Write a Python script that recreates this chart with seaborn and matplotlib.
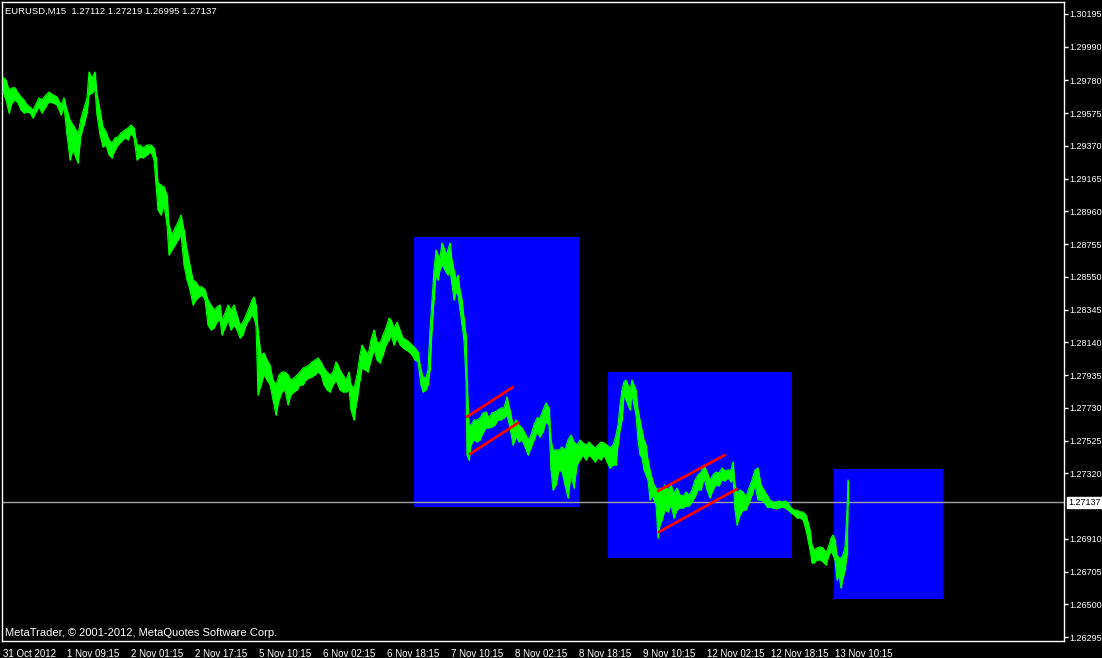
import numpy as np
import pandas as pd
import seaborn as sns
import matplotlib.pyplot as plt
from matplotlib.patches import Rectangle
import matplotlib.transforms as mtransforms

# EURUSD M15 - bar number (1 bar = 15 min), high / low of sampled bars
bars = [3, 6, 9, 12, 15, 18, 21, 24, 27, 30, 33, 36, 39, 42, 45, 49, 53, 57, 61, 64,
        67, 70, 73, 76, 78, 81, 84, 87, 89, 92, 95, 97, 100, 103, 106, 109, 112, 115, 118, 121,
        125, 128, 131, 134, 137, 140, 143, 147, 151, 154, 156, 158, 161, 164, 167, 169, 172, 175, 178, 181,
        184, 187, 190, 193, 196, 199, 202, 205, 208, 211, 214, 217, 220, 222, 225, 228, 231, 234, 237, 240,
        243, 246, 249, 252, 254, 256, 258, 261, 264, 267, 270, 273, 276, 279, 282, 285, 288, 291, 294, 297,
        300, 303, 306, 309, 312, 315, 318, 321, 324, 327, 330, 333, 336, 338, 340, 343, 346, 349, 351, 354,
        357, 360, 362, 365, 368, 371, 374, 377, 380, 383, 386, 389, 391, 394, 397, 400, 403, 406, 409, 412,
        415, 418, 421, 423, 426, 428, 430, 432, 434, 436, 438, 440, 442, 444, 446, 448, 450, 452, 454, 456,
        458, 460, 462, 464, 466, 467, 469, 471, 474, 477, 480, 483, 486, 489, 492, 495, 498, 501, 504, 507,
        510, 513, 516, 519, 522, 525, 528, 531, 534, 537, 540, 543, 546, 549, 551, 553, 556, 559, 562, 565,
        568, 571, 574, 577, 580, 583, 586, 589, 592, 595, 598, 601, 604, 607, 610, 613, 616, 618, 620, 622,
        624, 626, 628, 630, 632, 634, 636, 638, 640, 642, 644, 646, 648, 650, 652, 654, 656, 658, 660, 662,
        665, 668, 671, 674, 677, 680, 683, 686, 689, 692, 695, 698, 701, 704, 707, 710, 713, 716, 719, 722,
        725, 728, 731, 733, 735, 737, 740, 743, 746, 749, 752, 755, 758, 761, 764, 767, 770, 773, 776, 779,
        782, 785, 788, 791, 794, 797, 800, 803, 806, 808, 810, 812, 814, 817, 820, 823, 826, 829, 831, 833,
        835, 837, 839, 841, 843, 845, 847, 848]

highs = [1.29801, 1.29782, 1.29720, 1.29733, 1.29733, 1.29701, 1.29676, 1.29657, 1.29626, 1.29613,
         1.29594, 1.29632, 1.29670, 1.29657, 1.29682, 1.29707, 1.29689, 1.29676, 1.29626, 1.29670,
         1.29594, 1.29532, 1.29500, 1.29469, 1.29438, 1.29544, 1.29607, 1.29670, 1.29832, 1.29795,
         1.29832, 1.29689, 1.29594, 1.29488, 1.29457, 1.29407, 1.29388, 1.29419, 1.29426, 1.29451,
         1.29469, 1.29482, 1.29500, 1.29482, 1.29375, 1.29375, 1.29357, 1.29375, 1.29375, 1.29357,
         1.29300, 1.29137, 1.29125, 1.29112, 1.29062, 1.28874, 1.28812, 1.28856, 1.28893, 1.28937,
         1.28843, 1.28718, 1.28624, 1.28530, 1.28518, 1.28487, 1.28487, 1.28468, 1.28405, 1.28374,
         1.28342, 1.28361, 1.28374, 1.28280, 1.28324, 1.28374, 1.28342, 1.28374, 1.28311, 1.28248,
         1.28267, 1.28311, 1.28355, 1.28405, 1.28424, 1.28374, 1.28217, 1.28061, 1.28073, 1.28029,
         1.27998, 1.27904, 1.27873, 1.27936, 1.27954, 1.27954, 1.27936, 1.27904, 1.27917, 1.27936,
         1.27954, 1.27979, 1.27986, 1.27998, 1.28017, 1.28029, 1.28042, 1.28017, 1.27979, 1.27954,
         1.27936, 1.27954, 1.28017, 1.27998, 1.27967, 1.27936, 1.27904, 1.27954, 1.27873, 1.27854,
         1.27936, 1.28061, 1.28123, 1.28092, 1.28061, 1.28155, 1.28217, 1.28142, 1.28136, 1.28186,
         1.28230, 1.28292, 1.28280, 1.28230, 1.28267, 1.28217, 1.28167, 1.28155, 1.28142, 1.28123,
         1.28105, 1.28080, 1.27967, 1.27923, 1.27917, 1.27967, 1.28217, 1.28405, 1.28593, 1.28718,
         1.28687, 1.28668, 1.28762, 1.28731, 1.28687, 1.28718, 1.28762, 1.28655, 1.28593, 1.28530,
         1.28561, 1.28468, 1.28405, 1.28292, 1.28186, 1.27904, 1.27622, 1.27622, 1.27654, 1.27654,
         1.27667, 1.27698, 1.27704, 1.27667, 1.27698, 1.27704, 1.27716, 1.27729, 1.27729, 1.27798,
         1.27716, 1.27622, 1.27654, 1.27622, 1.27604, 1.27572, 1.27529, 1.27560, 1.27622, 1.27667,
         1.27667, 1.27716, 1.27760, 1.27729, 1.27529, 1.27466, 1.27466, 1.27466, 1.27485, 1.27466,
         1.27529, 1.27560, 1.27516, 1.27497, 1.27529, 1.27510, 1.27497, 1.27516, 1.27497, 1.27479,
         1.27497, 1.27516, 1.27510, 1.27497, 1.27479, 1.27497, 1.27560, 1.27622, 1.27748, 1.27842,
         1.27892, 1.27904, 1.27873, 1.27842, 1.27904, 1.27873, 1.27842, 1.27716, 1.27654, 1.27591,
         1.27529, 1.27497, 1.27403, 1.27341, 1.27291, 1.27247, 1.27228, 1.27216, 1.27228, 1.27216,
         1.27247, 1.27216, 1.27247, 1.27197, 1.27228, 1.27184, 1.27178, 1.27203, 1.27184, 1.27216,
         1.27278, 1.27310, 1.27328, 1.27372, 1.27328, 1.27278, 1.27310, 1.27328, 1.27322, 1.27353,
         1.27335, 1.27341, 1.27341, 1.27391, 1.27247, 1.27197, 1.27216, 1.27203, 1.27172, 1.27228,
         1.27278, 1.27341, 1.27353, 1.27247, 1.27216, 1.27184, 1.27153, 1.27140, 1.27140, 1.27147,
         1.27140, 1.27147, 1.27134, 1.27103, 1.27090, 1.27090, 1.27078, 1.27078, 1.27059, 1.27015,
         1.26965, 1.26871, 1.26840, 1.26853, 1.26859, 1.26853, 1.26822, 1.26871, 1.26915, 1.26934,
         1.26903, 1.26809, 1.26790, 1.26790, 1.26809, 1.26859, 1.27090, 1.27278]

lows = [1.29707, 1.29657, 1.29575, 1.29638, 1.29657, 1.29638, 1.29594, 1.29575, 1.29582, 1.29575,
        1.29544, 1.29582, 1.29613, 1.29575, 1.29607, 1.29645, 1.29638, 1.29626, 1.29563, 1.29613,
        1.29438, 1.29281, 1.29344, 1.29294, 1.29262, 1.29438, 1.29500, 1.29575, 1.29689, 1.29701,
        1.29720, 1.29563, 1.29438, 1.29363, 1.29375, 1.29313, 1.29294, 1.29344, 1.29375, 1.29394,
        1.29419, 1.29407, 1.29451, 1.29419, 1.29281, 1.29300, 1.29294, 1.29313, 1.29332, 1.29281,
        1.29125, 1.28968, 1.28937, 1.28999, 1.28874, 1.28687, 1.28718, 1.28749, 1.28781, 1.28812,
        1.28624, 1.28530, 1.28468, 1.28374, 1.28405, 1.28424, 1.28436, 1.28405, 1.28248, 1.28217,
        1.28230, 1.28267, 1.28280, 1.28186, 1.28230, 1.28280, 1.28217, 1.28248, 1.28217, 1.28167,
        1.28186, 1.28248, 1.28280, 1.28311, 1.28292, 1.28248, 1.27811, 1.27873, 1.27936, 1.27904,
        1.27873, 1.27779, 1.27685, 1.27779, 1.27829, 1.27842, 1.27748, 1.27811, 1.27829, 1.27842,
        1.27873, 1.27873, 1.27904, 1.27917, 1.27923, 1.27936, 1.27954, 1.27936, 1.27873, 1.27842,
        1.27829, 1.27873, 1.27904, 1.27873, 1.27842, 1.27829, 1.27829, 1.27842, 1.27716, 1.27654,
        1.27779, 1.27904, 1.27979, 1.27967, 1.27954, 1.28029, 1.28092, 1.28029, 1.28010, 1.28061,
        1.28123, 1.28155, 1.28186, 1.28123, 1.28167, 1.28123, 1.28105, 1.28092, 1.28080, 1.28061,
        1.28029, 1.28017, 1.27873, 1.27829, 1.27842, 1.27873, 1.27967, 1.28217, 1.28405, 1.28561,
        1.28530, 1.28593, 1.28624, 1.28605, 1.28580, 1.28561, 1.28593, 1.28499, 1.28405, 1.28455,
        1.28436, 1.28342, 1.28248, 1.28155, 1.27904, 1.27435, 1.27403, 1.27497, 1.27529, 1.27516,
        1.27529, 1.27572, 1.27604, 1.27604, 1.27610, 1.27622, 1.27654, 1.27654, 1.27667, 1.27685,
        1.27604, 1.27497, 1.27547, 1.27516, 1.27529, 1.27485, 1.27435, 1.27479, 1.27529, 1.27579,
        1.27547, 1.27579, 1.27641, 1.27622, 1.27341, 1.27216, 1.27247, 1.27341, 1.27328, 1.27247,
        1.27166, 1.27310, 1.27228, 1.27372, 1.27403, 1.27435, 1.27403, 1.27435, 1.27416, 1.27391,
        1.27416, 1.27403, 1.27435, 1.27391, 1.27353, 1.27372, 1.27372, 1.27497, 1.27591, 1.27654,
        1.27811, 1.27779, 1.27748, 1.27716, 1.27811, 1.27748, 1.27685, 1.27529, 1.27435, 1.27416,
        1.27341, 1.27310, 1.27278, 1.27153, 1.27184, 1.27153, 1.27122, 1.26916, 1.26996, 1.27028,
        1.27090, 1.27078, 1.27122, 1.27040, 1.27090, 1.27103, 1.27103, 1.27115, 1.27115, 1.27140,
        1.27172, 1.27216, 1.27216, 1.27291, 1.27216, 1.27166, 1.27216, 1.27247, 1.27241, 1.27278,
        1.27272, 1.27291, 1.27266, 1.27291, 1.27090, 1.26996, 1.27059, 1.27090, 1.27090, 1.27134,
        1.27184, 1.27247, 1.27153, 1.27153, 1.27140, 1.27109, 1.27109, 1.27103, 1.27097, 1.27103,
        1.27109, 1.27103, 1.27090, 1.27072, 1.27059, 1.27040, 1.27040, 1.27028, 1.26965, 1.26903,
        1.26840, 1.26759, 1.26759, 1.26777, 1.26777, 1.26765, 1.26746, 1.26809, 1.26834, 1.26809,
        1.26777, 1.26652, 1.26684, 1.26602, 1.26665, 1.26715, 1.26809, 1.27122]

# chart objects (bar from, bar to, price top, price bottom)
boxes = [(414, 579, 1.28799, 1.27109),
         (608, 792, 1.27954, 1.26790),
         (834, 943, 1.27347, 1.26533)]
# trend lines (bar1, price1, bar2, price2)
trend_lines = [(467, 1.27673, 513, 1.27860),
               (470, 1.27441, 518, 1.27635),
               (658, 1.27209, 725, 1.27435),
               (659, 1.26953, 737, 1.27222)]

price_ticks = [1.30195, 1.29990, 1.29780, 1.29575, 1.29370, 1.29165, 1.28960, 1.28755,
               1.28550, 1.28345, 1.28140, 1.27935, 1.27730, 1.27525, 1.27320, 1.26910,
               1.26705, 1.26500, 1.26295]
time_ticks = [2, 66, 130, 194, 258, 322, 386, 450, 514, 578, 642, 706, 770, 834]
time_labels = ["31 Oct 2012", "1 Nov 09:15", "2 Nov 01:15", "2 Nov 17:15", "5 Nov 10:15",
               "6 Nov 02:15", "6 Nov 18:15", "7 Nov 10:15", "8 Nov 02:15", "8 Nov 18:15",
               "9 Nov 10:15", "12 Nov 02:15", "12 Nov 18:15", "13 Nov 10:15"]
last_price = 1.27137
header = "EURUSD,M15  1.27112 1.27219 1.26995 1.27137"

sns.set_style("dark", {"axes.facecolor": "black", "figure.facecolor": "black"})
plt.rcParams["font.family"] = ["Liberation Sans", "DejaVu Sans"]

fig = plt.figure(figsize=(11.02, 6.58), dpi=100)
ax = fig.add_axes([2 / 1102, 17 / 658, 1062 / 1102, 639 / 658])
ax.set_facecolor("black")

for b0, b1, ptop, pbot in boxes:
    ax.add_patch(Rectangle((b0, pbot), b1 - b0, ptop - pbot, color="#0000ff", lw=0, zorder=1))

ax.axhline(last_price, color="#a0a0a0", lw=1, zorder=2)

df = pd.DataFrame({"bar": bars, "high": highs, "low": lows})
ax.fill_between(df["bar"], df["low"], df["high"], color="#00ff00", lw=0, zorder=3)
sns.lineplot(data=df, x="bar", y="high", color="#00ff00", lw=0.8, ax=ax, zorder=3,
             estimator=None, sort=False)
sns.lineplot(data=df, x="bar", y="low", color="#00ff00", lw=0.8, ax=ax, zorder=3,
             estimator=None, sort=False)
ax.vlines(df["bar"], df["low"], df["high"], color="#00ff00", lw=1.0, zorder=3)

for b1, p1, b2, p2 in trend_lines:
    ax.plot([b1, b2], [p1, p2], color="#ff0000", lw=2, zorder=4)

ax.set_xlim(2, 1064)
ax.set_ylim(1.26270, 1.30270)
ax.set_xlabel("")
ax.set_ylabel("")
ax.grid(False)

ax.yaxis.tick_right()
ax.set_yticks(price_ticks)
ax.set_yticklabels([f"{p:.5f}" for p in price_ticks])
ax.set_xticks(time_ticks)
ax.set_xticklabels(time_labels, ha="left")
ax.tick_params(colors="white", labelcolor="white", length=3, width=1, direction="out")
ax.tick_params(axis="y", pad=1, labelsize=6.5, left=False, right=True)
ax.tick_params(axis="x", pad=2.5, labelsize=7)
offset = mtransforms.ScaledTranslation(1 / 100, 0, fig.dpi_scale_trans)
for lbl in ax.get_xticklabels():
    lbl.set_transform(lbl.get_transform() + offset)

for side in ["left", "right", "top", "bottom"]:
    ax.spines[side].set_visible(True)
    ax.spines[side].set_color("white")
    ax.spines[side].set_linewidth(1)

ax.annotate(f"{last_price:.5f}", xy=(1.0, last_price), xycoords=("axes fraction", "data"),
            xytext=(3, 0), textcoords="offset points", ha="left", va="center",
            fontsize=6.5, color="black",
            bbox=dict(boxstyle="square,pad=0.12", fc="white", ec="white"), zorder=10,
            annotation_clip=False)

ax.text(0.003, 0.993, header, transform=ax.transAxes, color="white", fontsize=6.8,
        ha="left", va="top")
ax.text(0.003, 0.005, "MetaTrader, © 2001-2012, MetaQuotes Software Corp.",
        transform=ax.transAxes, color="white", fontsize=8, ha="left", va="bottom")

fig.savefig("out.png", dpi=100, facecolor="black")
